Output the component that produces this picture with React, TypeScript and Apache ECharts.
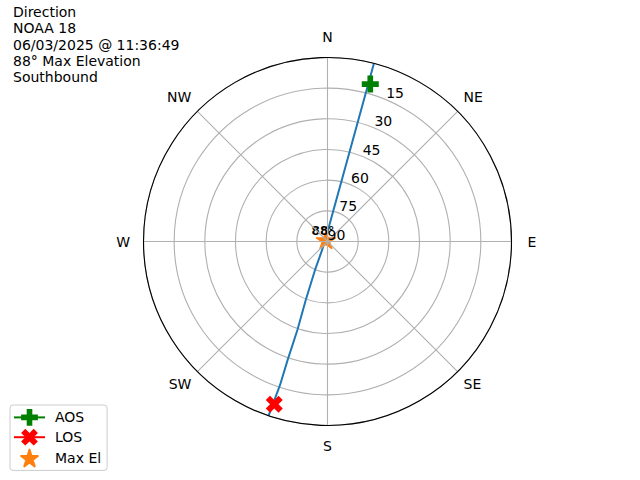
import React, { useEffect, useRef } from "react";
import * as echarts from "echarts";

const TITLE_LINES = [
  "Direction",
  "NOAA 18",
  "06/03/2025 @ 11:36:49",
  "88° Max Elevation",
  "Southbound",
];

const AZ_DIRS = ["N", "NE", "E", "SE", "S", "SW", "W", "NW"];

// pass track: azimuth (deg) and elevation (deg)
const PATH_AZ = [14.6, 14.4, 14.0, 13.1, 10.8, 6.6, 353, 280, 212.4, 203.7, 200.4, 198.8, 198.6, 198.3, 198.7];
const PATH_EL = [0, 18.5, 38.8, 59.1, 74.3, 81.9, 86.8, 88.6, 85.1, 74.8, 59.5, 44.3, 28.9, 16.1, 0];

const AOS_POINT = { az: 15.2, el: 10.2 };
const LOS_POINT = { az: 198.1, el: 6.2 };
const MAX_EL_POINT = { az: 315, el: 88.9, label: "88°" };

const FONT = "DejaVu Sans";

const PLUS_PATH =
  "path://M-1,-3L1,-3L1,-1L3,-1L3,1L1,1L1,3L-1,3L-1,1L-3,1L-3,-1L-1,-1Z";
const X_PATH =
  "path://M-1,-2L0,-1L1,-2L2,-1L1,0L2,1L1,2L0,1L-1,2L-2,1L-1,0L-2,-1Z";
const STAR_PATH =
  "path://M0,-100L-22.45,-30.9L-95.11,-30.9L-36.33,11.8L-58.78,80.9L0,38.2L58.78,80.9L36.33,11.8L95.11,-30.9L22.45,-30.9Z";

const toPolar = (az: number, el: number) => [90 - el, az];

export default function App() {
  const ref = useRef<HTMLDivElement>(null);

  useEffect(() => {
    if (!ref.current) return;
    const chart = echarts.init(ref.current, undefined, { renderer: "svg" });
    const center = [327.5, 241.5];
    const radius = 184;
    const pathData = PATH_AZ.map((az, i) => toPolar(az, PATH_EL[i]));

    const option: any = {
      animation: false,
      backgroundColor: "#ffffff",
      textStyle: { fontFamily: FONT },
      title: {
        text: TITLE_LINES.join("\n"),
        left: 13,
        top: 4,
        padding: 0,
        textStyle: {
          fontFamily: FONT,
          fontSize: 14,
          lineHeight: 16.25,
          fontWeight: "normal",
          color: "#000000",
        },
      },
      legend: {
        data: ["AOS", "LOS", "Max El"],
        orient: "vertical",
        left: 10,
        top: 405,
        itemWidth: 31,
        itemHeight: 21,
        itemGap: 3,
        padding: [4, 6, 3, 3],
        borderColor: "#cccccc",
        borderWidth: 1,
        borderRadius: 3,
        backgroundColor: "rgba(255,255,255,0.8)",
        textStyle: {
          fontFamily: FONT,
          fontSize: 14,
          color: "#000000",
          padding: [0, 0, 0, 5],
        },
      },
      polar: [
        { center, radius },
        { center, radius },
      ],
      angleAxis: [
        {
          polarIndex: 0,
          type: "value",
          min: 0,
          max: 360,
          interval: 45,
          startAngle: 90,
          clockwise: true,
          z: 5,
          axisLine: { show: true, lineStyle: { color: "#000000", width: 1.1 } },
          axisTick: { show: false },
          splitLine: { show: true, lineStyle: { color: "#b0b0b0", width: 1.1 } },
          axisLabel: {
            margin: 7,
            fontFamily: FONT,
            fontSize: 14,
            color: "#000000",
            formatter: (v: number) => {
              const i = Math.round(v / 45) % 8;
              const st = i === 0 ? "n" : i === 2 ? "e" : i === 4 ? "s" : i === 6 ? "w" : "d";
              return `{${st}|${AZ_DIRS[i]}}`;
            },
            rich: {
              n: { fontFamily: FONT, fontSize: 14, color: "#000", padding: [0, 0, 6.5, 0] },
              e: { fontFamily: FONT, fontSize: 14, color: "#000", padding: [0, 0, 0, 9] },
              s: { fontFamily: FONT, fontSize: 14, color: "#000", padding: [6.5, 0, 0, 0] },
              w: { fontFamily: FONT, fontSize: 14, color: "#000", padding: [0, 6.5, 0, 0] },
              d: { fontFamily: FONT, fontSize: 14, color: "#000", padding: [0, 1, 2, 1] },
            },
          },
        },
        {
          polarIndex: 1,
          type: "value",
          min: 0,
          max: 360,
          startAngle: 67.5,
          show: false,
        },
      ],
      radiusAxis: [
        {
          polarIndex: 0,
          type: "value",
          min: 0,
          max: 90,
          interval: 15,
          z: 2,
          axisLine: { show: false },
          axisTick: { show: false },
          axisLabel: { show: false },
          splitLine: { show: true, lineStyle: { color: "#b0b0b0", width: 1.1 } },
        },
        {
          polarIndex: 1,
          type: "value",
          min: 0,
          max: 90,
          interval: 15,
          z: 6,
          axisLine: { show: false },
          axisTick: { show: false },
          splitLine: { show: false },
          axisLabel: {
            show: true,
            margin: 0,
            align: "left",
            verticalAlign: "bottom",
            fontFamily: FONT,
            fontSize: 14,
            color: "#000000",
            formatter: (v: number) => (v >= 90 ? "" : String(90 - v)),
          },
        },
      ],
      series: [
        {
          name: "Track",
          type: "line",
          coordinateSystem: "polar",
          polarIndex: 0,
          data: pathData,
          showSymbol: false,
          symbol: "none",
          lineStyle: { color: "#1f77b4", width: 2 },
          z: 3,
        },
        {
          name: "AOS",
          type: "line",
          coordinateSystem: "polar",
          polarIndex: 0,
          data: [toPolar(AOS_POINT.az, AOS_POINT.el)],
          symbol: PLUS_PATH,
          symbolSize: 17,
          showSymbol: true,
          itemStyle: { color: "#008000" },
          lineStyle: { color: "#008000", width: 2 },
          z: 4,
        },
        {
          name: "LOS",
          type: "line",
          coordinateSystem: "polar",
          polarIndex: 0,
          data: [toPolar(LOS_POINT.az, LOS_POINT.el)],
          symbol: X_PATH,
          symbolSize: 17,
          showSymbol: true,
          itemStyle: { color: "#ff0000" },
          lineStyle: { color: "#ff0000", width: 2 },
          z: 4,
        },
        {
          name: "Max El",
          type: "line",
          coordinateSystem: "polar",
          polarIndex: 0,
          data: [toPolar(MAX_EL_POINT.az, MAX_EL_POINT.el)],
          symbol: STAR_PATH,
          symbolSize: [19, 18],
          symbolKeepAspect: true,
          showSymbol: true,
          itemStyle: {
            color: "#ff7f0e",
            borderColor: "#ff7f0e",
            borderWidth: 1.4,
            borderJoin: "round",
          },
          lineStyle: { color: "#ff7f0e", width: 2, opacity: 0 },
          z: 4,
          label: {
            show: true,
            position: "inside",
            offset: [-3, -9],
            formatter: () => MAX_EL_POINT.label,
            fontFamily: FONT,
            fontSize: 12,
            fontWeight: "bold",
            color: "#000000",
          },
        },
      ],
    };

    chart.setOption(option);
    return () => chart.dispose();
  }, []);

  return (
    <div
      ref={ref}
      style={{ position: "fixed", left: 0, top: 0, width: 640, height: 480 }}
    />
  );
}
